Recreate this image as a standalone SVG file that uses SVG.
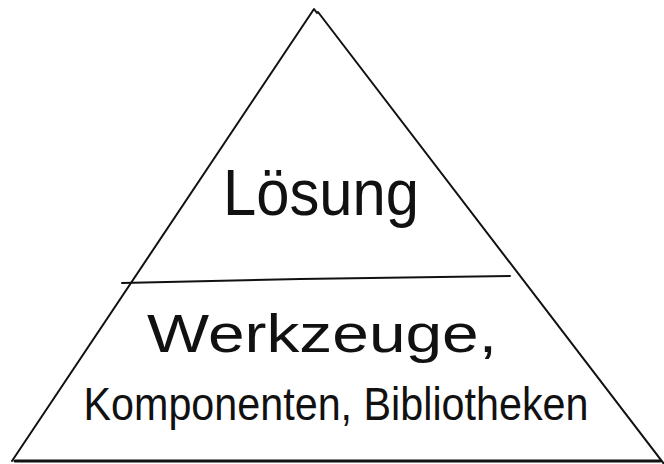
<svg xmlns="http://www.w3.org/2000/svg" width="664" height="464" viewBox="0 0 664 464">
<style>
.ln{fill:none;stroke:#111;stroke-width:2;stroke-linecap:round;stroke-linejoin:round}
.t{font-family:"Liberation Sans",Arial,sans-serif;fill:#111;text-anchor:middle}
</style>
<rect width="664" height="464" fill="#fff"/>
<g id="connectors">
<path class="ln" d="M12 461 L314 9 L317 13"/>
<path class="ln" d="M318 12 L664 464"/>
<path class="ln" d="M15 461 L660 461" style="stroke-width:3"/>
<path class="ln" d="M122 283 L300 279 L510 276"/>
</g>
<g id="top">
<text class="t" x="321" y="215" font-size="64" textLength="196" lengthAdjust="spacingAndGlyphs">Lösung</text>
</g>
<g id="bottom">
<text class="t" x="322" y="352" font-size="54" textLength="350" lengthAdjust="spacingAndGlyphs">Werkzeuge,</text>
<text class="t" x="336" y="420" font-size="46" textLength="505" lengthAdjust="spacingAndGlyphs">Komponenten, Bibliotheken</text>
</g>
</svg>
